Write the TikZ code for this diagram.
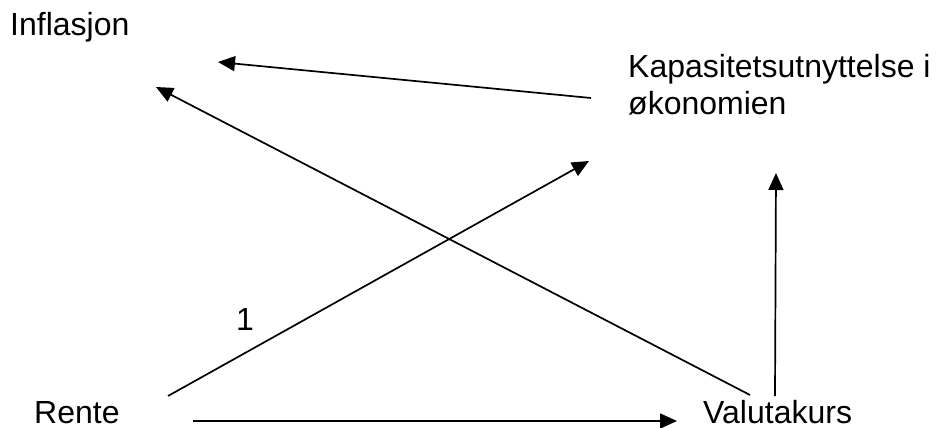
\documentclass[tikz,border=0pt]{standalone}
\usepackage{fontspec}
\setmainfont{Liberation Sans}
\usetikzlibrary{arrows.meta}
\begin{document}
\begin{tikzpicture}[x=1pt,y=-1pt,
  label/.style={inner sep=0pt,font=\fontsize{32}{37}\selectfont},
  link/.style={line width=1.7pt,-{Triangle[length=17pt,width=15pt]}}]
\useasboundingbox (0,0) rectangle (946,428);
% labels
\node[label,anchor=base west] (infl) at (10,36) {Inflasjon};
\node[label,anchor=north west,align=left] (kap) at (628,54) {Kapasitetsutnyttelse i\\økonomien};
\node[label,anchor=base west] (rente) at (34,423) {Rente};
\node[label,anchor=base west] (valuta) at (703,423) {Valutakurs};
\node[label,anchor=base west] (one) at (236,330) {1};
% connector end points around the labels
\coordinate (kapW)   at (591,98);
\coordinate (kapSW)  at (589,161);
\coordinate (kapS)   at (776,173);
\coordinate (inflE)  at (218,62);
\coordinate (inflSE) at (156,87);
\coordinate (renteNE) at (168,396);
\coordinate (renteE)  at (193,421);
\coordinate (valN)  at (775,396);
\coordinate (valNW) at (750,395);
\coordinate (valW)  at (677,421);
% relations
\draw[link] (kapW) -- (inflE);
\draw[link] (valNW) -- (inflSE);
\draw[link] (renteNE) -- (kapSW);
\draw[link] (valN) -- (kapS);
\draw[link] (renteE) -- (valW);
\end{tikzpicture}
\end{document}
